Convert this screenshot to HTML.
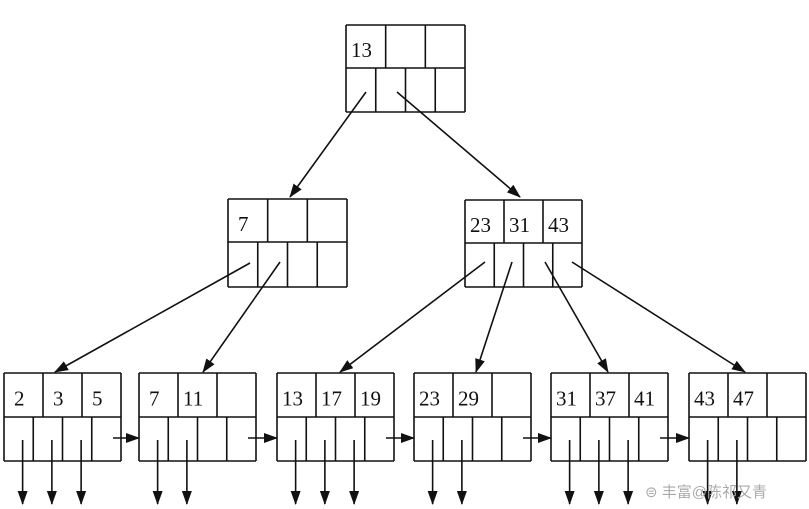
<!DOCTYPE html>
<html><head><meta charset="utf-8"><style>
html,body{margin:0;padding:0;background:#fff;}
svg{display:block;}
text{font-family:"Liberation Serif",serif;font-size:21px;fill:#111;}
</style></head><body>
<svg id="s" width="809" height="509" viewBox="0 0 809 509" xmlns="http://www.w3.org/2000/svg">
<defs><marker id="a" markerWidth="14" markerHeight="10" refX="13" refY="5" orient="auto" markerUnits="userSpaceOnUse"><path d="M0,0 L14,5 L0,10 z" fill="#111"/></marker></defs>
<g id="g" stroke="#111" stroke-width="1.6" fill="none"></g>
<g id="t"></g>
<text x="645" y="497" style="font-family:'Liberation Sans','Noto Sans CJK SC',sans-serif;font-size:15px;fill:#aaa">⊜ 丰富@陈祁又青</text>
</svg>
<script>
var g=document.getElementById('g'),t=document.getElementById('t');
function L(x1,y1,x2,y2,arr){var l=document.createElementNS('http://www.w3.org/2000/svg','line');l.setAttribute('x1',x1);l.setAttribute('y1',y1);l.setAttribute('x2',x2);l.setAttribute('y2',y2);if(arr)l.setAttribute('marker-end','url(#a)');g.appendChild(l);}
function T(x,y,s){var e=document.createElementNS('http://www.w3.org/2000/svg','text');e.setAttribute('x',x);e.setAttribute('y',y);e.textContent=s;t.appendChild(e);}
function node(x,y,w,h,mid,keys){
 L(x,y,x+w,y);L(x,y+h,x+w,y+h);L(x,y,x,y+h);L(x+w,y,x+w,y+h);L(x,y+mid,x+w,y+mid);
 for(var i=1;i<3;i++)L(x+w*i/3,y,x+w*i/3,y+mid);
 for(var i=1;i<4;i++)L(x+w*i/4,y+mid,x+w*i/4,y+h);
 keys.forEach(function(k,i){T(x+w*i/3+(k.length>1?5:10),y+mid*0.74,k);});
}
node(346,25,119,87,43,['13']);
node(228,199,119,88,43,['7']);
node(465,200,117,87,43,['23','31','43']);
var leaves=[[4,['2','3','5'],3],[139,['7','11'],2],[277,['13','17','19'],3],[414,['23','29'],2],[551,['31','37','41'],3],[689,['43','47'],2]];
leaves.forEach(function(lf,j){var x=lf[0],w=117;node(x,373,w,88,44,lf[1]);
 for(var i=0;i<lf[2];i++){var cx=x+w*i/4+w/8+4;L(cx,440,cx,504,true);}
 if(j<5){L(x+w-8,438,leaves[j+1][0],438,true);}
});
L(366,92,290,197,true);L(397,92,520,197,true);
L(250,263,55,372,true);L(280,262,203,372,true);
L(485,262,340,372,true);L(512,262,476,372,true);
L(545,262,608,372,true);L(572,262,745,372,true);
</script>
</body></html>
